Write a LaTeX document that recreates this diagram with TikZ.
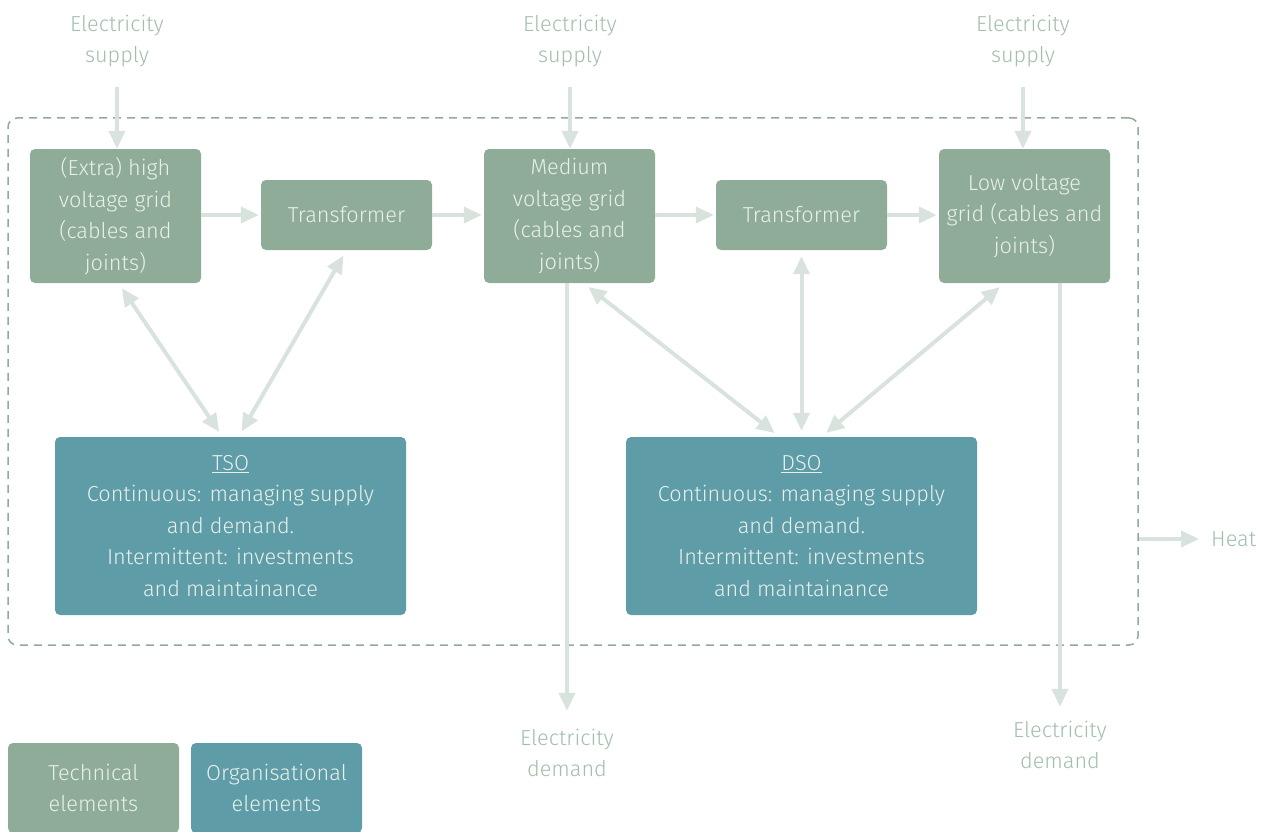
\documentclass[tikz,border=0pt]{standalone}
\usepackage{fontspec}
\setmainfont{Fira Sans Light}
\usetikzlibrary{arrows.meta,calc}
\definecolor{techfill}{HTML}{8FAC98}
\definecolor{orgfill}{HTML}{5E9CA8}
\definecolor{boxtext}{HTML}{E8F0EA}
\definecolor{labeltext}{HTML}{A2BEAC}
\definecolor{arrowcol}{HTML}{D9E3DE}
\definecolor{dashcol}{HTML}{8FAC98}
\begin{document}
\begin{tikzpicture}[x=1pt,y=-1pt,
  every node/.style={font=\fontsize{21.7}{31.5}\selectfont, align=center},
  techbox/.style={fill=techfill, rounded corners=5pt, text=boxtext, minimum width=171pt, inner sep=0pt},
  orgbox/.style={fill=orgfill, rounded corners=5pt, text=boxtext, minimum width=351pt, minimum height=178pt, inner sep=0pt},
  outlabel/.style={text=labeltext, inner sep=0pt},
  tip/.tip={Triangle[length=18pt,width=16pt]},
  flow/.style={draw=arrowcol, line width=4pt, -tip},
  twoway/.style={draw=arrowcol, line width=4pt, tip-tip, shorten <=6pt, shorten >=6pt},
]
\useasboundingbox (0,0) rectangle (1263,832);

% system boundary
\node[draw=dashcol, dashed, dash pattern=on 8pt off 6pt, line width=1.5pt, rounded corners=9pt,
      minimum width=1130pt, minimum height=527pt, inner sep=0pt] (frame) at (573,381.5) {};

% technical elements
\node[techbox, minimum height=134pt] (hv) at (115.5,216) {(Extra) high\\voltage grid\\(cables and\\joints)};
\node[techbox, minimum height=70pt] (t1) at (346.5,215) {Transformer};
\node[techbox, minimum height=134pt] (mv) at (569.5,216) {Medium\\voltage grid\\(cables and\\joints)};
\node[techbox, minimum height=70pt] (t2) at (801.5,215) {Transformer};
\node[techbox, minimum height=134pt] (lv) at (1024.5,216) {Low voltage\\grid (cables and\\joints)};

% organisational elements
\node[orgbox] (tso) at (230.5,526) {\underline{TSO}\\Continuous: managing supply\\and demand.\\Intermittent: investments\\and maintainance};
\node[orgbox] (dso) at (801.5,526) {\underline{DSO}\\Continuous: managing supply\\and demand.\\Intermittent: investments\\and maintainance};

% inputs and outputs
\node[outlabel] (s1) at (117,41) {Electricity\\supply};
\node[outlabel] (s2) at (570,41) {Electricity\\supply};
\node[outlabel] (s3) at (1023,41) {Electricity\\supply};
\node[outlabel] (d1) at (567,753) {Electricity\\demand};
\node[outlabel] (d2) at (1060,745) {Electricity\\demand};
\node[outlabel, anchor=west] (heat) at (1211,539) {Heat};

% legend
\node[techbox, minimum height=90pt] (legt) at (93.5,788) {Technical\\elements};
\node[orgbox, minimum width=171pt, minimum height=90pt] (lego) at (276.5,788) {Organisational\\elements};

% supply arrows
\draw[flow, shorten <=20pt] (s1.south) -- (s1.south |- hv.north);
\draw[flow, shorten <=20pt] (s2.south) -- (s2.south |- mv.north);
\draw[flow, shorten <=20pt] (s3.south) -- (s3.south |- lv.north);

% chain of grids and transformers
\draw[flow, shorten >=2pt] (hv.east |- t1.west) -- (t1.west);
\draw[flow, shorten >=2pt] (t1.east) -- (mv.west |- t1.east);
\draw[flow, shorten >=2pt] (mv.east |- t2.west) -- (t2.west);
\draw[flow, shorten >=2pt] (t2.east) -- (lv.west |- t2.east);

% demand arrows
\draw[flow, shorten >=18pt] (d1.north |- mv.south) -- (d1.north);
\draw[flow, shorten >=14pt] (d2.north |- lv.south) -- (d2.north);

% heat loss
\coordinate (heatstart) at ($(frame.east)+(0,157.5)$);
\draw[flow, shorten >=12pt] (heatstart) -- (heat.west);

% operator interactions
\draw[twoway] ($(hv.south)+(3,0)$) -- ($(tso.north)+(-8,0)$);
\draw[twoway] (t1.south) -- ($(tso.north)+(8,0)$);
\draw[twoway] ($(mv.south)+(14,0)$) -- ($(dso.north)+(-22,0)$);
\draw[twoway] (t2.south) -- (dso.north);
\draw[twoway] ($(lv.south)+(-20,0)$) -- ($(dso.north)+(20,0)$);
\end{tikzpicture}
\end{document}
